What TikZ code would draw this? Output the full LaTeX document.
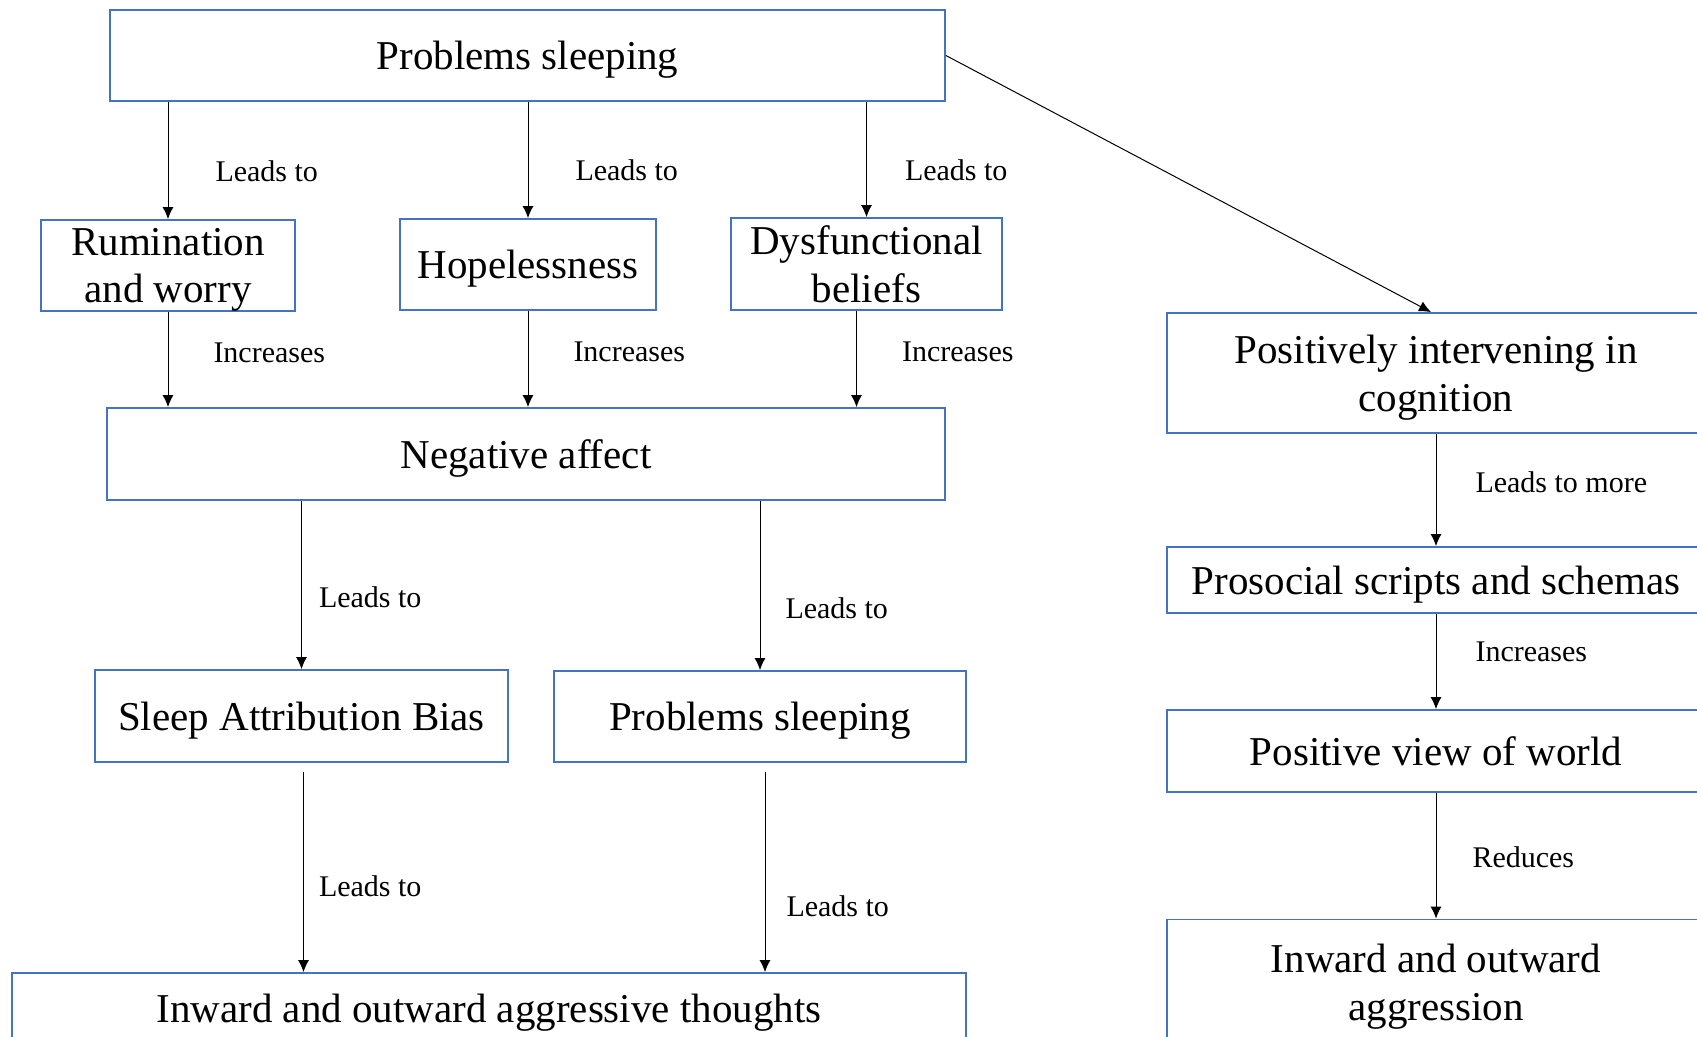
\documentclass[tikz,border=0pt]{standalone}
\usepackage{fontspec}
\setmainfont{Liberation Serif}
\usepackage{xcolor}
\usetikzlibrary{arrows.meta}
\definecolor{boxblue}{RGB}{68, 114, 196}

\begin{document}
\begin{tikzpicture}[x=0.5pt, y=-0.5pt]
    % Styles
    \tikzstyle{block} = [rectangle, draw=boxblue, line width=0.9pt, align=center,
        inner sep=1pt, text depth=0pt, font=\fontsize{20.5}{23.8}\selectfont]
    \tikzstyle{arrow} = [line width=0.5pt, ->, >={Latex[length=6pt, width=5.5pt]}]
    \tikzstyle{lbl} = [anchor=west, inner sep=0pt, font=\fontsize{15}{18}\selectfont]

    \useasboundingbox (0,0) rectangle (1697,1037);

    % Nodes
    \node [block, minimum width=417.5pt, minimum height=45.5pt] (sleep) at (527.5,55.5) {Problems sleeping};
    \node [block, minimum width=127pt, minimum height=45.5pt] (rumination) at (168,265.5) {Rumination\\and worry};
    \node [block, minimum width=128pt, minimum height=45.5pt] (hopeless) at (528,264.5) {Hopelessness};
    \node [block, minimum width=135.5pt, minimum height=46pt] (dysfunc) at (866.5,264) {Dysfunctional\\beliefs};
    \node [block, minimum width=419pt, minimum height=46pt] (negaff) at (526,454) {Negative affect};
    \node [block, minimum width=206.5pt, minimum height=46pt] (attrib) at (301.5,716) {Sleep Attribution Bias};
    \node [block, minimum width=206pt, minimum height=45.5pt] (sleeptwo) at (760,716.5) {Problems sleeping};
    \node [block, minimum width=477pt, minimum height=35pt] (thoughts) at (489,1008) {Inward and outward aggressive thoughts};

    \node [block, minimum width=269pt, minimum height=60pt] (positive) at (1436,373) {Positively intervening in\\cognition};
    \node [block, minimum width=269pt, minimum height=33pt] (prosocial) at (1436,580) {Prosocial scripts and schemas};
    \node [block, minimum width=269pt, minimum height=41pt] (view) at (1436,751) {Positive view of world};
    \node [block, minimum width=269pt, minimum height=62.5pt] (aggression) at (1436,982) {Inward and outward\\aggression};

    % Arrows
    \draw [arrow] (sleep.south -| rumination.north) -- node [lbl, pos=0.59, xshift=23.5pt] (lrum) {Leads to} (rumination.north);
    \draw [arrow] (sleep.south -| hopeless.north) -- node [lbl, pos=0.59, xshift=23.5pt] (lhope) {Leads to} (hopeless.north);
    \draw [arrow] (sleep.south -| dysfunc.north) -- node [lbl, pos=0.59, xshift=19pt] (ldys) {Leads to} (dysfunc.north);
    \draw [arrow] (rumination.south) -- node [lbl, pos=0.43, xshift=22.5pt] (lrumneg) {Increases} (rumination.south |- negaff.north);
    \draw [arrow] (hopeless.south) -- node [lbl, pos=0.43, xshift=22.5pt] (lhopeneg) {Increases} (hopeless.south |- negaff.north);
    \draw [arrow] ([xshift=-5pt]dysfunc.south) -- node [lbl, pos=0.43, xshift=22.5pt] (ldysneg) {Increases} ([xshift=-5pt]dysfunc.south |- negaff.north);
    \draw [arrow] (negaff.south -| attrib.north) -- node [lbl, pos=0.57, xshift=8.5pt] (lattrib) {Leads to} (attrib.north);
    \draw [arrow] (negaff.south -| sleeptwo.north) -- node [lbl, pos=0.635, xshift=12.5pt] (lsleeptwo) {Leads to} (sleeptwo.north);
    \draw [arrow] ([xshift=1pt, yshift=-4.5pt]attrib.south) -- node [lbl, pos=0.57, xshift=7.5pt] (lattribth) {Leads to} ([xshift=1pt]attrib.south |- thoughts.north);
    \draw [arrow] ([xshift=2.5pt, yshift=-4.5pt]sleeptwo.south) -- node [lbl, pos=0.67, xshift=10.5pt] (lsleepth) {Leads to} ([xshift=2.5pt]sleeptwo.south |- thoughts.north);

    \draw [arrow] (sleep.east) -- ([xshift=-2.5pt]positive.north);
    \draw [arrow] (positive.south) -- node [lbl, pos=0.43, xshift=19.5pt] (lpos) {Leads to more} (prosocial.north);
    \draw [arrow] (prosocial.south) -- node [lbl, pos=0.40, xshift=19.5pt] (lpro) {Increases} (view.north);
    \draw [arrow] (view.south) -- node [lbl, pos=0.51, xshift=18pt] (lview) {Reduces} (aggression.north);
\end{tikzpicture}
\end{document}
